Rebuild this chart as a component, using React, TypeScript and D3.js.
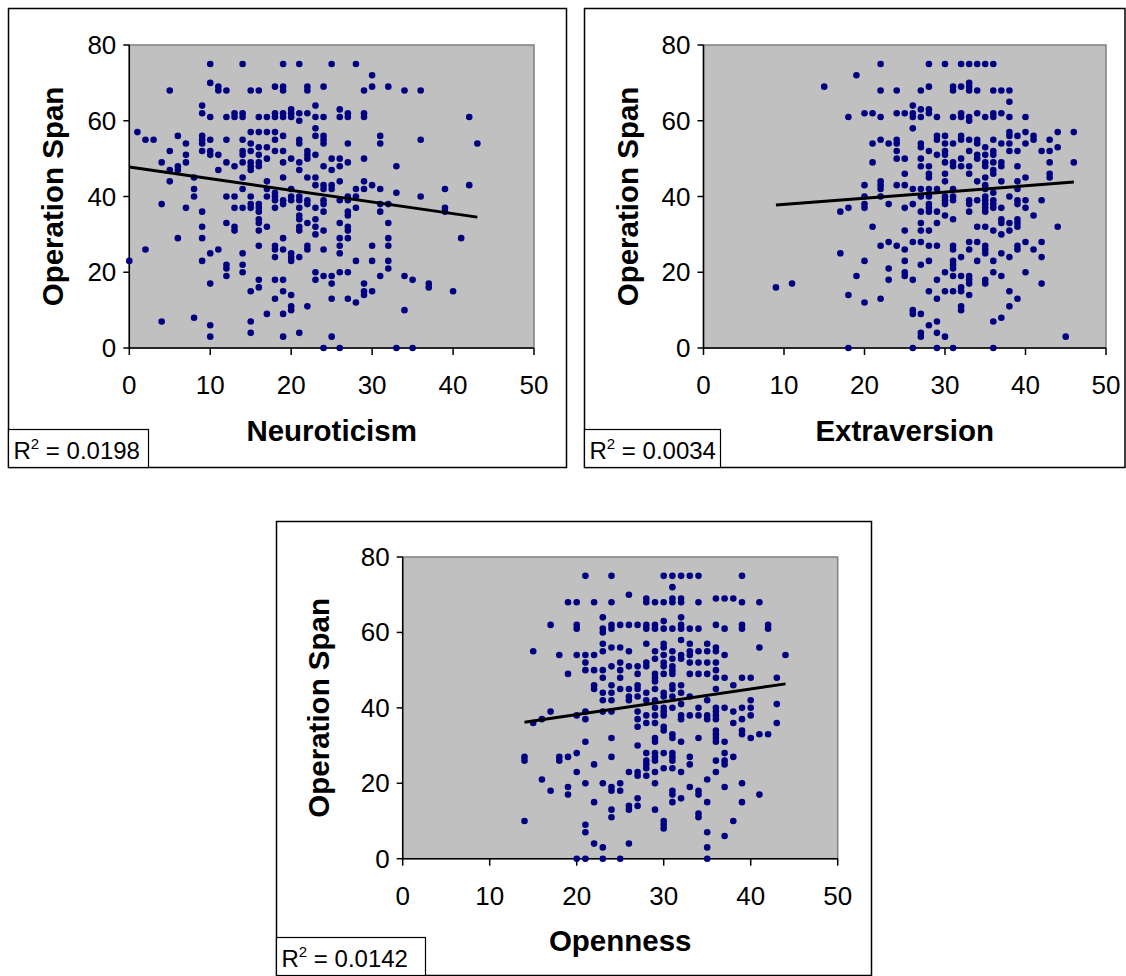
import React from "react";
import * as d3 from "d3";

// each column: [trait score, operation span values at that score]
type Column = [number, number[]];

const spanTicks = [0, 20, 40, 60, 80];
const traitTicks = [0, 10, 20, 30, 40, 50];
const traitNames = ["Neuroticism", "Extraversion", "Openness"];
const rSquared = ["0.0198", "0.0034", "0.0142"];

const neuroticism: Column[] = [
  [0, [23]], [1, [57]], [2, [55, 26]], [3, [55]], [4, [49, 38, 7]],
  [5, [68, 52, 47, 44]], [6, [56, 48, 47, 29]], [7, [54, 51, 49, 37]], [8, [45, 42, 40, 8]],
  [9, [64, 62, 56, 55, 54, 52, 36, 32, 29, 23]],
  [10, [75, 70, 61, 55, 52, 51, 25, 17, 6, 3]],
  [11, [69, 68, 51, 47, 26]],
  [12, [68, 61, 55, 49, 40, 33, 22, 21, 19]],
  [13, [62, 61, 48, 40, 37, 32, 31]],
  [14, [75, 62, 61, 55, 52, 51, 49, 45, 42, 37, 25, 22, 20]],
  [15, [68, 57, 54, 52, 49, 48, 47, 40, 38, 37, 15, 7, 4]],
  [16, [68, 61, 57, 53, 51, 49, 48, 38, 37, 36, 34, 33, 31, 27, 18, 16]],
  [17, [61, 57, 53, 50, 44, 42, 40, 32, 9]],
  [18, [69, 62, 61, 57, 55, 52, 41, 40, 39, 37, 27, 26, 24, 18, 13]],
  [19, [75, 69, 68, 62, 61, 56, 52, 49, 45, 39, 38, 29, 26, 18, 15, 9, 3]],
  [20, [63, 62, 61, 50, 42, 40, 39, 25, 24, 23, 14, 11, 10]],
  [21, [75, 62, 60, 55, 54, 49, 47, 40, 39, 37, 35, 34, 32, 31, 24, 4]],
  [22, [69, 68, 62, 52, 51, 50, 45, 39, 38, 33, 27, 26, 11]],
  [23, [64, 61, 58, 56, 51, 45, 43, 37, 34, 32, 30, 20, 18]],
  [24, [69, 61, 56, 55, 54, 48, 43, 42, 39, 38, 36, 31, 26, 19, 0]],
  [25, [75, 50, 47, 43, 42, 19, 17, 13, 3]],
  [26, [63, 61, 50, 48, 44, 39, 33, 29, 27, 25, 20, 0]],
  [27, [62, 61, 54, 49, 40, 39, 36, 35, 32, 31, 29, 20, 13]],
  [28, [75, 42, 40, 37, 23, 12]],
  [29, [68, 62, 61, 50, 44, 42, 17, 15, 14]],
  [30, [72, 69, 43, 27, 23, 15]],
  [31, [56, 54, 42, 38, 36, 19]],
  [32, [69, 38, 33, 29, 27, 23, 21]],
  [33, [48, 41, 0]], [34, [68, 19, 10]], [35, [18, 0]], [36, [68, 55, 40]],
  [37, [17, 16]], [39, [42, 37, 36]], [40, [15]], [41, [29]], [42, [61, 43]], [43, [54]],
];

const extraversion: Column[] = [
  [9, [16]], [11, [17]], [15, [69]], [17, [36, 25]], [18, [61, 37, 14, 0]], [19, [72, 19]],
  [20, [62, 43, 40, 38, 37, 23, 12]],
  [21, [62, 54, 49, 32]],
  [22, [75, 68, 61, 55, 44, 43, 42, 40, 27, 13]],
  [23, [54, 38, 28, 21, 18]],
  [24, [68, 62, 55, 54, 52, 50, 43, 27]],
  [25, [62, 50, 46, 43, 37, 31, 26, 23, 20, 19]],
  [26, [64, 62, 61, 58, 42, 38, 28, 18, 10, 9, 0]],
  [27, [68, 63, 61, 54, 53, 50, 48, 42, 40, 36, 33, 31, 28, 22, 9, 4, 3]],
  [28, [75, 69, 63, 62, 52, 48, 46, 45, 42, 40, 38, 37, 36, 31, 27, 23, 15, 6]],
  [29, [61, 56, 55, 51, 42, 36, 33, 27, 18, 13, 7, 4, 0]],
  [30, [75, 56, 54, 52, 51, 49, 46, 44, 40, 39, 38, 35, 20, 15, 3]],
  [31, [69, 68, 61, 54, 49, 48, 42, 40, 39, 34, 27, 26, 23, 22, 21, 19, 15, 0]],
  [32, [75, 69, 62, 61, 56, 55, 50, 48, 24, 19, 16, 15, 11, 10]],
  [33, [75, 70, 69, 68, 61, 60, 55, 52, 48, 46, 39, 38, 36, 28, 26, 19, 18, 17, 14]],
  [34, [75, 68, 62, 55, 54, 51, 50, 44, 39, 32, 28, 23]],
  [35, [75, 61, 53, 51, 49, 48, 45, 43, 42, 40, 39, 38, 37, 36, 32, 27, 26, 25, 18, 17]],
  [36, [75, 68, 62, 61, 55, 52, 51, 49, 47, 46, 41, 39, 38, 37, 31, 23, 20, 7, 0]],
  [37, [68, 62, 54, 49, 48, 44, 37, 34, 33, 30, 25, 19, 8]],
  [38, [68, 65, 61, 57, 56, 54, 52, 40, 33, 31, 24, 15, 11]],
  [39, [56, 52, 48, 44, 42, 39, 38, 34, 33, 32, 27, 26, 13]],
  [40, [61, 57, 54, 45, 39, 37, 28, 20]],
  [41, [56, 55, 35, 26]],
  [42, [52, 39, 28, 24, 17]],
  [43, [55, 52, 49, 46, 45]],
  [44, [57, 53, 32]], [45, [3]], [46, [57, 49]],
];

const openness: Column[] = [
  [14, [27, 26, 10]], [15, [55, 36]], [16, [37, 21]], [17, [62, 39, 18]], [18, [54, 27, 26]],
  [19, [68, 49, 27, 19, 17]],
  [20, [68, 62, 61, 54, 38, 28, 23, 0]],
  [21, [75, 54, 52, 50, 39, 37, 31, 20, 9, 7, 0]],
  [22, [68, 54, 50, 46, 45, 25, 15, 4]],
  [23, [64, 61, 60, 57, 55, 50, 48, 44, 42, 39, 20, 3, 0]],
  [24, [75, 68, 62, 61, 56, 51, 46, 44, 42, 39, 32, 27, 19, 18, 13, 11]],
  [25, [62, 56, 52, 50, 48, 45, 20, 18, 0]],
  [26, [70, 62, 55, 51, 45, 43, 42, 23, 14, 13, 4]],
  [27, [62, 51, 49, 46, 45, 43, 39, 37, 35, 30, 23, 22, 16, 14]],
  [28, [69, 68, 62, 61, 57, 52, 51, 44, 42, 38, 36, 28, 26, 25, 24, 22]],
  [29, [68, 62, 61, 55, 53, 49, 48, 47, 45, 42, 40, 38, 36, 32, 31, 28, 27, 26, 23, 20, 13]],
  [30, [75, 68, 63, 61, 57, 56, 54, 52, 51, 49, 44, 43, 40, 39, 38, 35, 34, 28, 24, 10, 9, 8]],
  [31, [75, 72, 69, 68, 61, 55, 53, 51, 50, 49, 46, 45, 43, 40, 33, 32, 28, 27, 26, 24, 18, 17, 15]],
  [32, [75, 69, 68, 64, 62, 61, 58, 54, 53, 46, 44, 41, 38, 37, 31, 23, 16]],
  [33, [75, 61, 57, 55, 54, 52, 49, 43, 38, 27, 25, 19]],
  [34, [75, 68, 61, 55, 52, 49, 40, 38, 32, 18, 17, 12, 11]],
  [35, [57, 55, 52, 49, 42, 38, 37, 21, 15, 7, 3, 0]],
  [36, [69, 62, 56, 55, 52, 50, 48, 45, 40, 39, 38, 37, 34, 33, 32, 31, 26, 23]],
  [37, [69, 61, 54, 48, 40, 31, 28, 26, 25, 19, 6]],
  [38, [69, 46, 39, 36, 27, 10]],
  [39, [75, 68, 62, 61, 48, 40, 37, 34, 33, 20, 15]],
  [40, [48, 42, 40, 38, 32]],
  [41, [68, 56, 33, 17]],
  [42, [62, 61, 33]], [43, [48, 41, 36]], [44, [54]],
];

// linear trend lines: [intercept, slope]
const neuroticismFit = [47.8, -0.308];
const extraversionFit = [36.3, 0.163];
const opennessFit = [31.4, 0.34];

const font = "'Liberation Sans', Arial, sans-serif";

function Panel({ cols, fit, r2, name, frame, plot, yTitleX, rBoxW }) {
  const x = d3.scaleLinear().domain([0, 50]).range([plot.left, plot.right]);
  const y = d3.scaleLinear().domain([0, 80]).range([plot.bottom, plot.top]);
  const pts = cols.flatMap(([xv, ys]) => ys.map(yv => [xv, yv]));
  const ext = d3.extent(cols, c => c[0]);
  const fitPts = ext.map(v => [v, fit[0] + fit[1] * v]);
  const line = d3.line().x(d => x(d[0])).y(d => y(d[1]));
  const midY = (plot.top + plot.bottom) / 2;
  const midX = (plot.left + plot.right) / 2;
  const boxTop = frame.y + frame.h - 38;

  return (
    <g fontFamily={font}>
      <rect x={frame.x} y={frame.y} width={frame.w} height={frame.h} fill="white" stroke="black" strokeWidth={1.5} />
      <rect x={plot.left} y={plot.top} width={plot.right - plot.left} height={plot.bottom - plot.top}
        fill="#c0c0c0" stroke="#808080" strokeWidth={1.5} />
      {/* axes */}
      <line x1={plot.left} x2={plot.left} y1={plot.top} y2={plot.bottom} stroke="black" strokeWidth={1.5} />
      <line x1={plot.left} x2={plot.right} y1={plot.bottom} y2={plot.bottom} stroke="black" strokeWidth={1.5} />
      {spanTicks.map(t => (
        <g key={"y" + t}>
          <line x1={plot.left - 6} x2={plot.left} y1={y(t)} y2={y(t)} stroke="black" strokeWidth={1.5} />
          <text x={plot.left - 13} y={y(t)} textAnchor="end" dominantBaseline="central" fontSize={26}>{t}</text>
        </g>
      ))}
      {traitTicks.map(t => (
        <g key={"x" + t}>
          <line x1={x(t)} x2={x(t)} y1={plot.bottom} y2={plot.bottom + 7} stroke="black" strokeWidth={1.5} />
          <text x={x(t)} y={plot.bottom + 37} textAnchor="middle" dominantBaseline="central" fontSize={26}>{t}</text>
        </g>
      ))}
      {/* points */}
      {pts.map((d, i) => (
        <circle key={i} cx={x(d[0])} cy={y(d[1])} r={3.3} fill="#000080" />
      ))}
      <path d={line(fitPts)} stroke="black" strokeWidth={3} fill="none" />
      {/* titles */}
      <text transform={`translate(${yTitleX},${midY}) rotate(-90)`} textAnchor="middle" dominantBaseline="central"
        fontSize={29.5} fontWeight="bold">Operation Span</text>
      <text x={midX} y={plot.bottom + 82} textAnchor="middle" dominantBaseline="central" fontSize={29.5} fontWeight="bold">{name}</text>
      {/* R squared box */}
      <rect x={frame.x} y={boxTop} width={rBoxW} height={38} fill="white" stroke="black" strokeWidth={1.2} />
      <text x={frame.x + 5} y={boxTop + 29} fontSize={24}>
        <tspan>R</tspan>
        <tspan dy={-10} fontSize={15}>2</tspan>
        <tspan dy={10}>{" = " + r2}</tspan>
      </text>
    </g>
  );
}

export default function App() {
  return (
    <svg width={1126} height={976} style={{ position: "absolute", left: 0, top: 0, background: "white" }}>
      <Panel cols={neuroticism} fit={neuroticismFit} r2={rSquared[0]} name={traitNames[0]}
        frame={{ x: 8.5, y: 8.5, w: 558, h: 459 }}
        plot={{ left: 129.3, right: 534, top: 45, bottom: 348 }} yTitleX={52} rBoxW={140} />
      <Panel cols={extraversion} fit={extraversionFit} r2={rSquared[1]} name={traitNames[1]}
        frame={{ x: 584.5, y: 8.5, w: 540.5, h: 459 }}
        plot={{ left: 703.5, right: 1106, top: 45, bottom: 348 }} yTitleX={627} rBoxW={136} />
      <Panel cols={openness} fit={opennessFit} r2={rSquared[2]} name={traitNames[2]}
        frame={{ x: 276.5, y: 521.5, w: 595, h: 454 }}
        plot={{ left: 402.7, right: 837.7, top: 557, bottom: 858.7 }} yTitleX={318} rBoxW={149} />
    </svg>
  );
}
